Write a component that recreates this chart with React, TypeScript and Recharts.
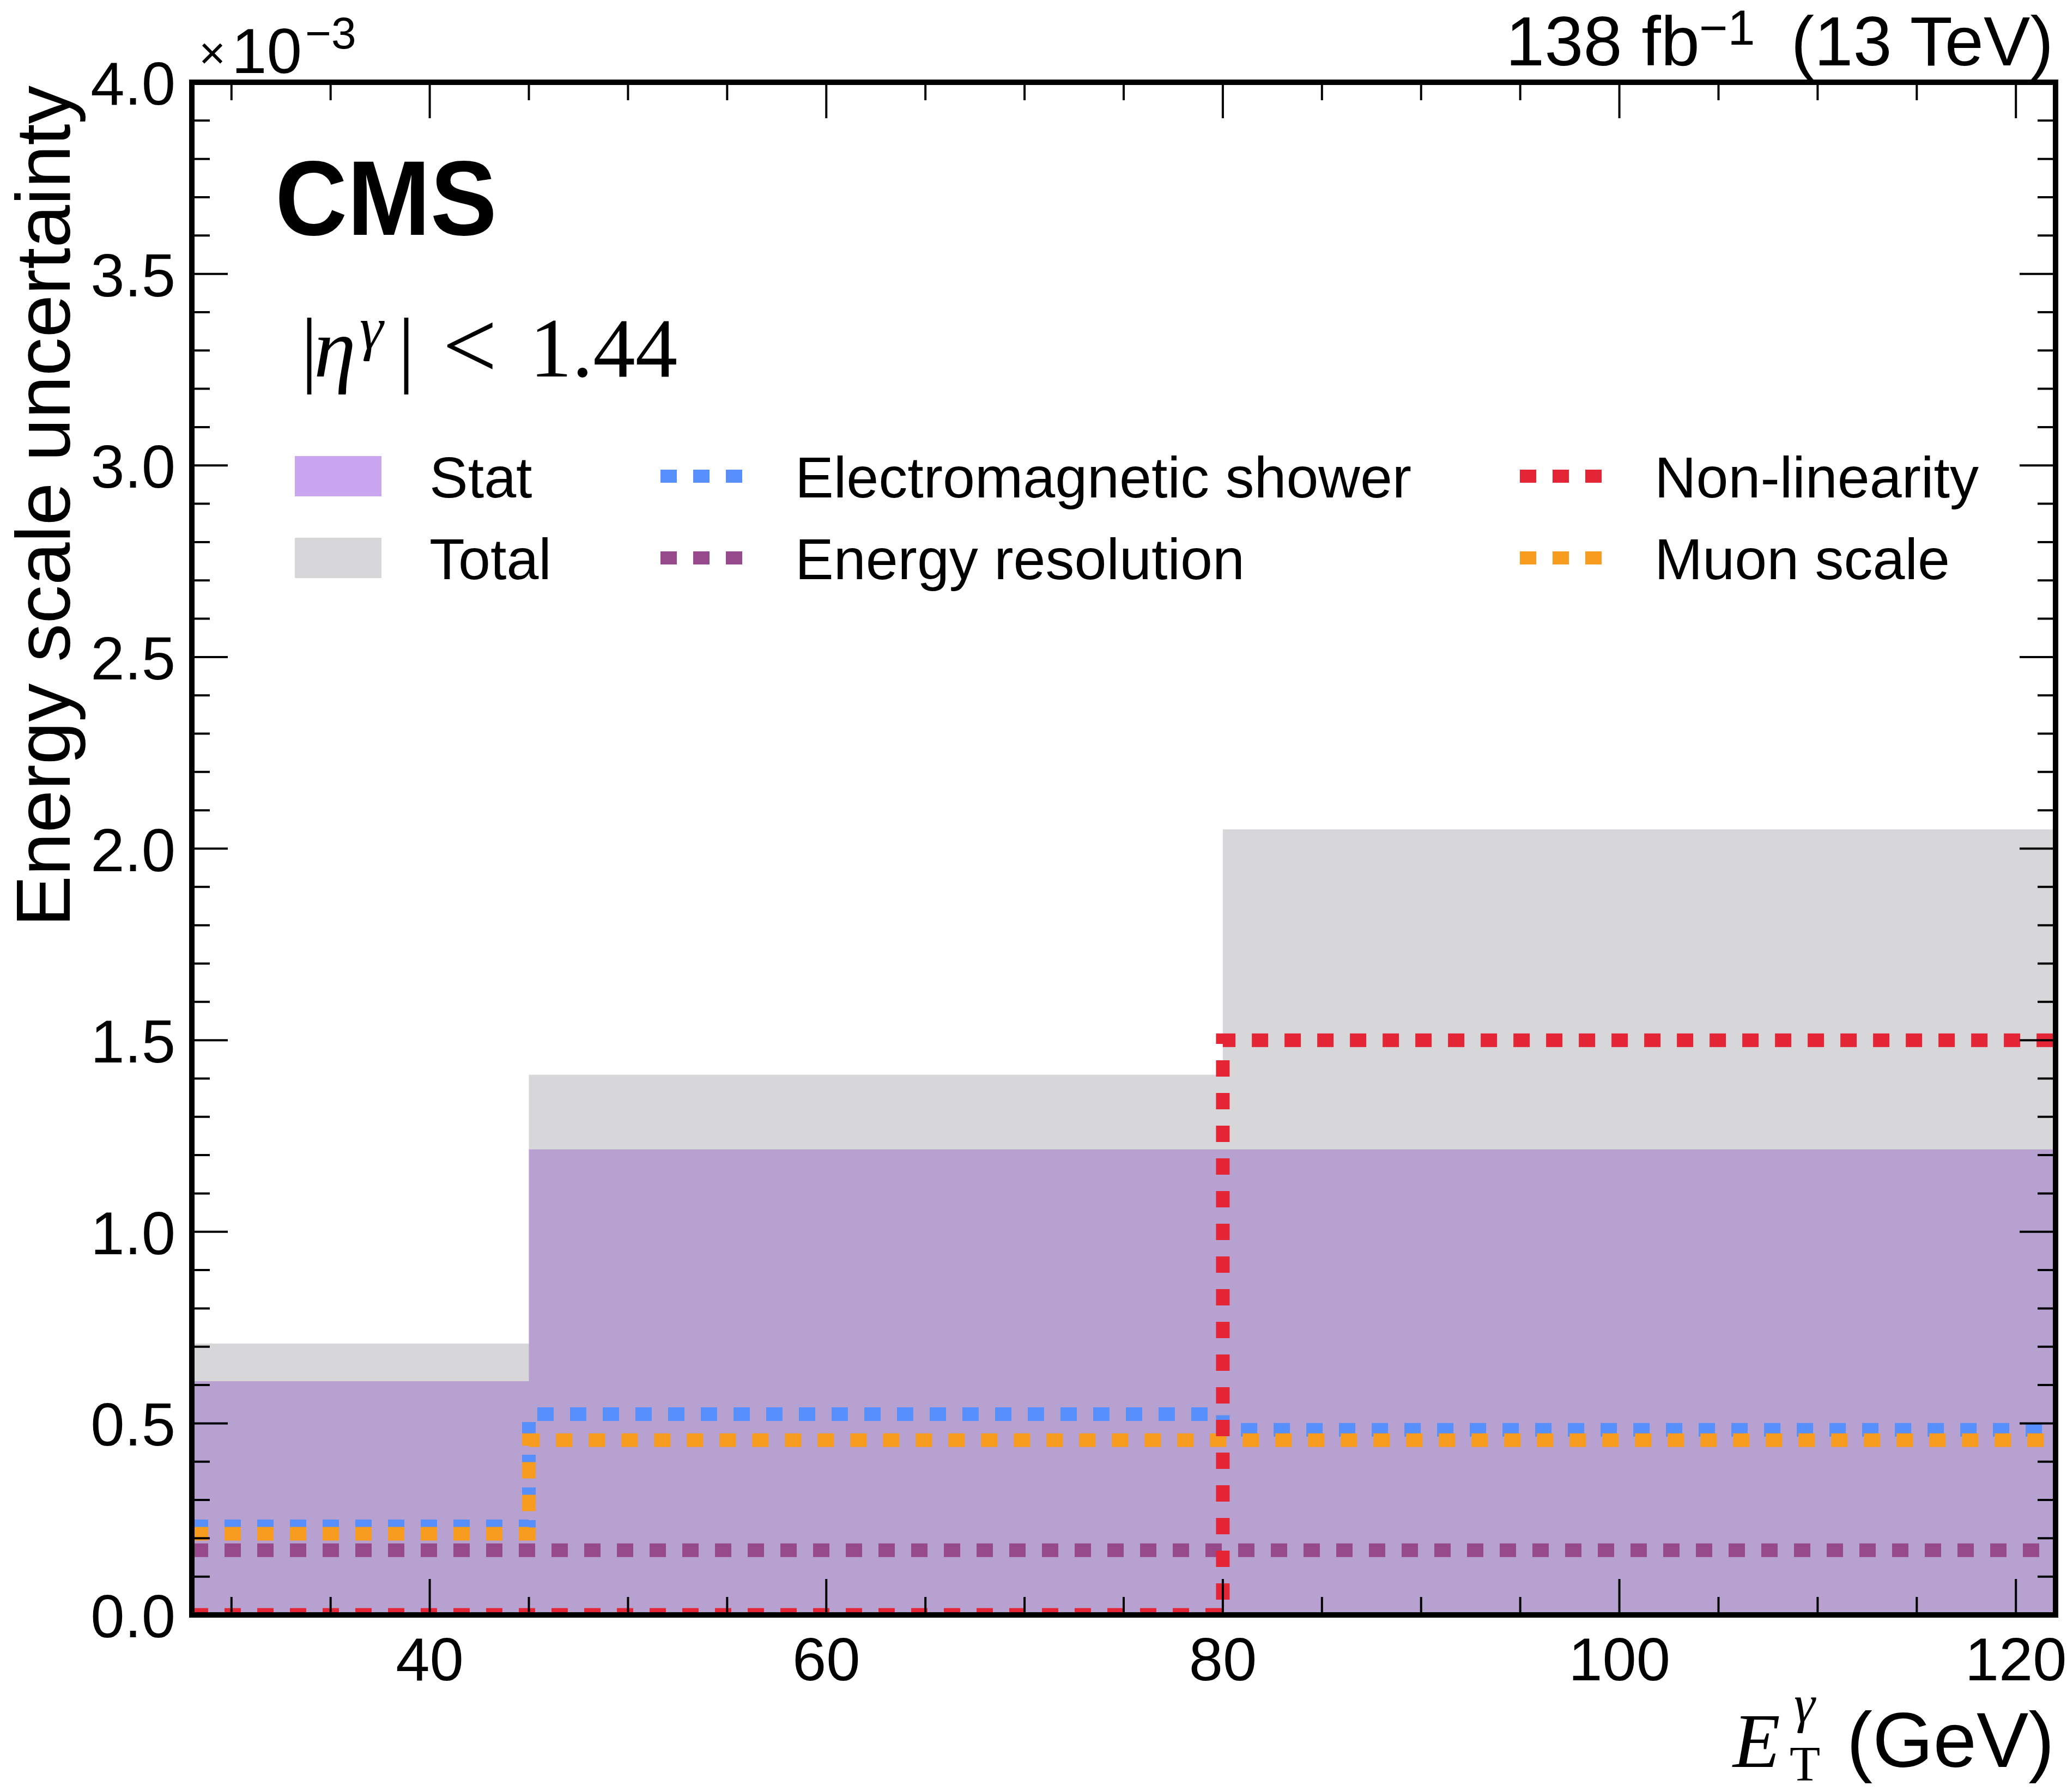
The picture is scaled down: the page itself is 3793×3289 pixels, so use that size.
import React from "react";
import { ComposedChart, Area, Line, XAxis, YAxis } from "recharts";

// bin edges in GeV, uncertainties in units of 1e-3
const binEdges = [28, 45, 80, 122];
const totalUnc = [0.708, 1.41, 2.05];
const statUnc = [0.61, 1.215, 1.215];
const emShower = [0.231, 0.524, 0.483];
const energyRes = [0.169, 0.169, 0.169];
const nonLinearity = [0, 0, 1.5];
const muonScale = [0.212, 0.456, 0.456];

const xTicks = [30, 35, 40, 45, 50, 55, 60, 65, 70, 75, 80, 85, 90, 95, 100, 105, 110, 115, 120];
const xMajorTicks = [40, 60, 80, 100, 120];
const yTicks = [
  0, 0.1, 0.2, 0.3, 0.4, 0.5, 0.6, 0.7, 0.8, 0.9, 1.0, 1.1, 1.2, 1.3, 1.4, 1.5, 1.6, 1.7, 1.8, 1.9, 2.0,
  2.1, 2.2, 2.3, 2.4, 2.5, 2.6, 2.7, 2.8, 2.9, 3.0, 3.1, 3.2, 3.3, 3.4, 3.5, 3.6, 3.7, 3.8, 3.9, 4.0,
];
const yMajorTicks = [0, 0.5, 1.0, 1.5, 2.0, 2.5, 3.0, 3.5, 4.0];

// step data: last edge repeats the last bin value
const data = binEdges.map((x, i) => {
  const k = Math.min(i, totalUnc.length - 1);
  return {
    x,
    total: totalUnc[k],
    stat: statUnc[k],
    em: emShower[k],
    res: energyRes[k],
    nonlin: nonLinearity[k],
    muon: muonScale[k],
  };
});

const W = 3793;
const H = 3289;
const SANS = '"Liberation Sans", Arial, Helvetica, sans-serif';
const SERIF = '"Liberation Serif", "Times New Roman", serif';
const TICK_FONT = 112;

const COLORS = {
  stat: "#7a21dd",
  total: "#9c9ca1",
  em: "#5790fc",
  res: "#964a8b",
  nonlin: "#e42536",
  muon: "#f89c20",
};

const isMajorY = (v: number) => yMajorTicks.some((m) => Math.abs(m - v) < 1e-6);

const BottomTick = (props: any) => {
  const { x, y, payload } = props;
  const major = xMajorTicks.includes(payload.value);
  return (
    <g>
      <line x1={x} x2={x} y1={y} y2={y - (major ? 66 : 33)} stroke="#000" strokeWidth={4} />
      {major && (
        <text x={x} y={y + 120} textAnchor="middle" fontSize={TICK_FONT} fontFamily={SANS} fill="#000">
          {payload.value}
        </text>
      )}
    </g>
  );
};

const TopTick = (props: any) => {
  const { x, y, payload } = props;
  const major = xMajorTicks.includes(payload.value);
  return <line x1={x} x2={x} y1={y} y2={y + (major ? 66 : 33)} stroke="#000" strokeWidth={4} />;
};

const LeftTick = (props: any) => {
  const { x, y, payload } = props;
  const major = isMajorY(payload.value);
  return (
    <g>
      <line x1={x} x2={x + (major ? 66 : 33)} y1={y} y2={y} stroke="#000" strokeWidth={4} />
      {major && (
        <text x={x - 30} y={y + 41} textAnchor="end" fontSize={TICK_FONT} fontFamily={SANS} fill="#000">
          {payload.value.toFixed(1)}
        </text>
      )}
    </g>
  );
};

const RightTick = (props: any) => {
  const { x, y, payload } = props;
  const major = isMajorY(payload.value);
  return <line x1={x} x2={x - (major ? 66 : 33)} y1={y} y2={y} stroke="#000" strokeWidth={4} />;
};

const legendItems = [
  { label: "Stat", key: "stat", patch: true, col: 0, row: 0 },
  { label: "Total", key: "total", patch: true, col: 0, row: 1 },
  { label: "Electromagnetic shower", key: "em", patch: false, col: 1, row: 0 },
  { label: "Energy resolution", key: "res", patch: false, col: 1, row: 1 },
  { label: "Non-linearity", key: "nonlin", patch: false, col: 2, row: 0 },
  { label: "Muon scale", key: "muon", patch: false, col: 2, row: 1 },
];
const legendColX = [541, 1212, 2789];
const legendRowY = [874, 1024];

const axisLine = { stroke: "#000", strokeWidth: 10, strokeLinecap: "square" as const };

export default function App() {
  return (
    <div style={{ position: "absolute", left: 0, top: 0, width: W, height: H, background: "#fff" }}>
      <ComposedChart
        width={W}
        height={H}
        data={data}
        margin={{ top: 150, right: 20, bottom: 324, left: 351 }}
      >
        <XAxis
          dataKey="x"
          type="number"
          domain={[28, 122]}
          ticks={xTicks}
          allowDataOverflow
          height={1}
          tickSize={0}
          tickMargin={0}
          tickLine={false}
          axisLine={axisLine}
          tick={<BottomTick />}
          interval={0}
        />
        <XAxis
          xAxisId="top"
          orientation="top"
          dataKey="x"
          type="number"
          domain={[28, 122]}
          ticks={xTicks}
          allowDataOverflow
          height={1}
          tickSize={0}
          tickMargin={0}
          tickLine={false}
          axisLine={axisLine}
          tick={<TopTick />}
          interval={0}
        />
        <YAxis
          type="number"
          domain={[0, 4]}
          ticks={yTicks}
          allowDataOverflow
          width={1}
          tickSize={0}
          tickMargin={0}
          tickLine={false}
          axisLine={axisLine}
          tick={<LeftTick />}
          interval={0}
        />
        <YAxis
          yAxisId="right"
          orientation="right"
          type="number"
          domain={[0, 4]}
          ticks={yTicks}
          allowDataOverflow
          width={1}
          tickSize={0}
          tickMargin={0}
          tickLine={false}
          axisLine={axisLine}
          tick={<RightTick />}
          interval={0}
        />
        <Area
          type="stepAfter"
          dataKey="stat"
          stroke="none"
          fill={COLORS.stat}
          fillOpacity={0.4}
          isAnimationActive={false}
        />
        <Area
          type="stepAfter"
          dataKey="total"
          stroke="none"
          fill={COLORS.total}
          fillOpacity={0.4}
          isAnimationActive={false}
        />
        {(["em", "res", "muon", "nonlin"] as const).map((k) => (
          <Line
            key={k}
            type="stepAfter"
            dataKey={k}
            stroke={COLORS[k]}
            strokeWidth={25}
            strokeDasharray="30 30"
            strokeLinecap="butt"
            dot={false}
            activeDot={false}
            isAnimationActive={false}
          />
        ))}
      </ComposedChart>

      <svg
        width={W}
        height={H}
        style={{ position: "absolute", left: 0, top: 0, pointerEvents: "none" }}
      >
        {/* y axis title */}
        <text
          transform="translate(128,157) rotate(-90)"
          textAnchor="end"
          fontSize={141}
          fontFamily={SANS}
          fill="#000"
        >
          Energy scale uncertainty
        </text>

        {/* x axis title */}
        <text x={3180} y={3243} fontSize={142} fontFamily={SERIF} fontStyle="italic" fill="#000">
          E
        </text>
        <text x={3284} y={3268} fontSize={92} fontFamily={SERIF} fill="#000">
          T
        </text>
        <text x={3292} y={3160} fontSize={98} fontFamily={SERIF} fontStyle="italic" fill="#000">
          γ
        </text>
        <text x={3770} y={3243} textAnchor="end" fontSize={143} fontFamily={SANS} fill="#000">
          (GeV)
        </text>

        {/* axis multiplier */}
        <text x={365} y={126} fontSize={84} fontFamily={SANS} fill="#000">
          ×
        </text>
        <text x={425} y={134} fontSize={116} fontFamily={SANS} fill="#000">
          10
        </text>
        <text x={560} y={89} fontSize={82} fontFamily={SANS} fill="#000">
          −3
        </text>

        {/* luminosity */}
        <text x={2763} y={120} fontSize={128} fontFamily={SANS} fill="#000">
          138 fb
        </text>
        <text x={3118} y={82} fontSize={90} fontFamily={SANS} fill="#000">
          −1
        </text>
        <text x={3768} y={120} textAnchor="end" fontSize={128} fontFamily={SANS} fill="#000">
          (13 TeV)
        </text>

        {/* CMS label */}
        <text
          x={505}
          y={431}
          fontSize={194}
          fontWeight="bold"
          fontFamily={SANS}
          textLength={407}
          lengthAdjust="spacingAndGlyphs"
          fill="#000"
        >
          CMS
        </text>

        {/* eta region */}
        <g fontFamily={SERIF} fill="#000" fontSize={155}>
          <text x={552} y={691}>|</text>
          <text x={576} y={691} fontStyle="italic">η</text>
          <text x={660} y={640} fontSize={110} fontStyle="italic">γ</text>
          <text x={730} y={691}>|</text>
          <text x={812} y={694} fontSize={178}>&lt;</text>
          <text x={972} y={691}>1.44</text>
        </g>

        {/* legend */}
        {legendItems.map((it) => {
          const x0 = legendColX[it.col];
          const yc = legendRowY[it.row];
          const color = COLORS[it.key as keyof typeof COLORS];
          return (
            <g key={it.key}>
              {it.patch ? (
                <rect x={x0} y={yc - 37} width={159} height={74} fill={color} fillOpacity={0.4} />
              ) : (
                <line
                  x1={x0}
                  x2={x0 + 151}
                  y1={yc}
                  y2={yc}
                  stroke={color}
                  strokeWidth={24}
                  strokeDasharray="30 30"
                />
              )}
              <text x={x0 + 247} y={yc + 39} fontSize={106} fontFamily={SANS} fill="#000">
                {it.label}
              </text>
            </g>
          );
        })}
      </svg>
    </div>
  );
}
